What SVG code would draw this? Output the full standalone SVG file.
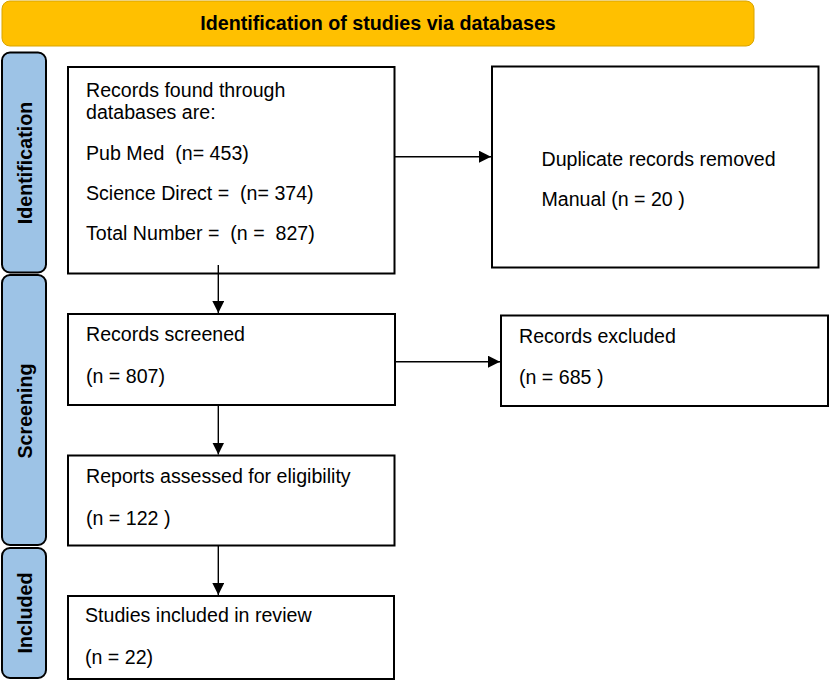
<svg xmlns="http://www.w3.org/2000/svg" width="829" height="681" viewBox="0 0 829 681">
<defs>
<marker id="ah" viewBox="0 0 12 12" refX="12" refY="6" markerWidth="12" markerHeight="12" markerUnits="userSpaceOnUse" orient="auto">
<path d="M0,0 L12,6 L0,12 Z" fill="#000"/>
</marker>
<style>
.box{fill:#fff;stroke:#000;stroke-width:2}
.side{fill:#9dc3e6;stroke:#000;stroke-width:2}
.t{font-family:"Liberation Sans",Arial,sans-serif;font-size:19.6px;fill:#000;white-space:pre}
.b{font-family:"Liberation Sans",Arial,sans-serif;font-size:19.7px;font-weight:bold;fill:#000}
.c{stroke:#000;stroke-width:1.4;fill:none;marker-end:url(#ah)}
</style>
</defs>
<rect width="829" height="681" fill="#fff"/>
<g id="banner">
<rect x="2" y="1" width="752" height="45" rx="8" fill="#ffc000" stroke="#d9a400" stroke-width="1"/>
<text class="b" x="378" y="30" text-anchor="middle">Identification of studies via databases</text>
</g>
<g id="side-identification">
<rect class="side" x="2" y="52.5" width="44" height="220" rx="8"/>
<text class="b" transform="translate(32,163) rotate(-90)" text-anchor="middle">Identification</text>
</g>
<g id="side-screening">
<rect class="side" x="2" y="275" width="44" height="270" rx="8"/>
<text class="b" transform="translate(32,411) rotate(-90)" text-anchor="middle">Screening</text>
</g>
<g id="side-included">
<rect class="side" x="2" y="548" width="44" height="130" rx="8"/>
<text class="b" transform="translate(32,613) rotate(-90)" text-anchor="middle">Included</text>
</g>
<g id="records-found">
<rect class="box" x="68" y="67" width="326.5" height="206.5"/>
<text class="t" x="86" y="97">Records found through</text>
<text class="t" x="86" y="119">databases are:</text>
<text class="t" x="86" y="159.5" xml:space="preserve">Pub Med  (n= 453)</text>
<text class="t" x="86" y="199.5" xml:space="preserve">Science Direct =  (n= 374)</text>
<text class="t" x="86" y="239.5" xml:space="preserve">Total Number =  (n =  827)</text>
</g>
<g id="duplicates">
<rect class="box" x="492" y="66.5" width="326.5" height="201"/>
<text class="t" x="541.5" y="165.5">Duplicate records removed</text>
<text class="t" x="541.5" y="205.5">Manual (n = 20 )</text>
</g>
<g id="screened">
<rect class="box" x="68" y="314" width="327" height="91"/>
<text class="t" x="86" y="341">Records screened</text>
<text class="t" x="86" y="383">(n = 807)</text>
</g>
<g id="excluded">
<rect class="box" x="501" y="315.5" width="327" height="90.5"/>
<text class="t" x="519" y="342.5">Records excluded</text>
<text class="t" x="519" y="384">(n = 685 )</text>
</g>
<g id="assessed">
<rect class="box" x="68" y="455.5" width="326.5" height="90"/>
<text class="t" x="86" y="483">Reports assessed for eligibility</text>
<text class="t" x="86" y="524.5">(n = 122 )</text>
</g>
<g id="included">
<rect class="box" x="68" y="596" width="326" height="83"/>
<text class="t" x="85" y="622">Studies included in review</text>
<text class="t" x="85" y="663.5">(n = 22)</text>
</g>
<g id="connectors">
<line class="c" x1="395" y1="156.7" x2="491" y2="156.7"/>
<line class="c" x1="218.3" y1="265" x2="218.3" y2="313"/>
<line class="c" x1="395" y1="361.7" x2="500" y2="361.7"/>
<line class="c" x1="218.3" y1="406" x2="218.3" y2="454.5"/>
<line class="c" x1="218.3" y1="546" x2="218.3" y2="595"/>
</g>
</svg>
